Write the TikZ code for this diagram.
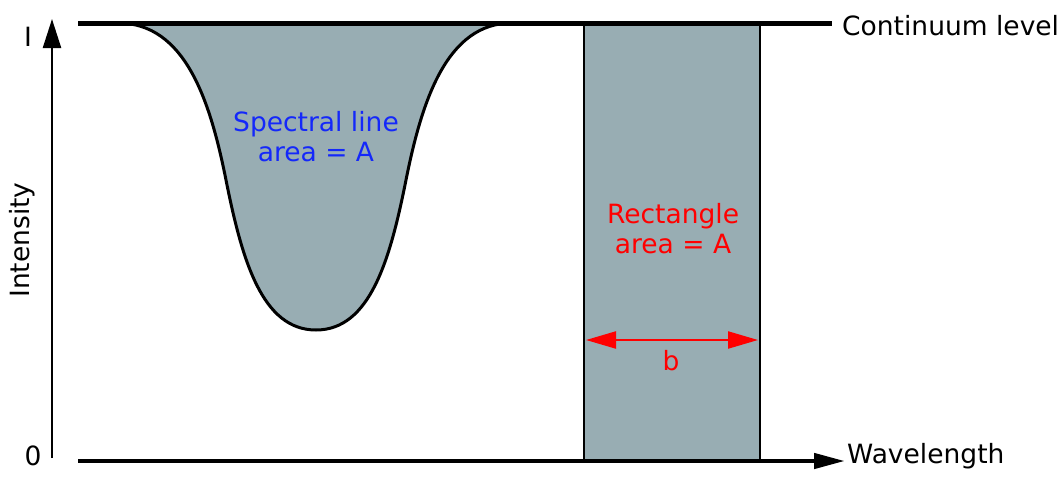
\documentclass[tikz,border=0pt]{standalone}
\usepackage{fontspec}
\setmainfont{DejaVu Sans}
\usetikzlibrary{arrows.meta, positioning}
\definecolor{linefill}{RGB}{152,173,179}
\definecolor{lineblue}{RGB}{20,40,250}

\begin{document}
\begin{tikzpicture}[x=1pt, y=-1pt, every node/.style={font=\fontsize{26.5}{30}\selectfont, inner sep=0pt}]
  \useasboundingbox (0,0) rectangle (1062,477);
  \coordinate (orig) at (52,458);
  \coordinate (itop) at (52,19);
  \coordinate (wl0) at (78,461);
  \coordinate (wl1) at (845,461);
  \coordinate (c0) at (78,23);
  \coordinate (c1) at (832,23);
  \coordinate (bl) at (586,340);
  \coordinate (br) at (758,340);

  \draw[fill=linefill, line width=3pt] (118,23) .. controls (185,23) and (210,100) .. (226,180)
    .. controls (242,260) and (262,330) .. (316,330)
    .. controls (370,330) and (390,260) .. (406,180)
    .. controls (422,100) and (447,23) .. (512,23) -- cycle;
  \draw[fill=linefill, line width=2pt] (584,23) rectangle (760,461);

  \draw[line width=5pt] (c0) -- (c1);
  \draw[line width=4.5pt, -{Triangle[length=31pt,width=15pt]}] (wl0) -- (wl1);
  \draw[line width=2.3pt, -{Triangle[length=29pt,width=18pt]}] (orig) -- (itop);
  \draw[red, line width=2.2pt, {Triangle[length=30pt,width=17pt]}-{Triangle[length=30pt,width=17pt]}] (bl) -- (br);

  \node (ilab) at (28,37) {I};
  \node (zlab) at (33,456) {0};
  \node[rotate=90] (ylab) at (22,240) {Intensity};
  \node[anchor=base west] (xlab) at (847,463) {Wavelength};
  \node[anchor=base west] (clab) at (842,35) {Continuum level};
  \node[lineblue, align=center] (slab) at (316,137) {Spectral line\\area = A};
  \node[red, align=center] (rlab) at (673,229) {Rectangle\\area = A};
  \node[red, anchor=base] (blab) at (671,370) {b};
\end{tikzpicture}
\end{document}
